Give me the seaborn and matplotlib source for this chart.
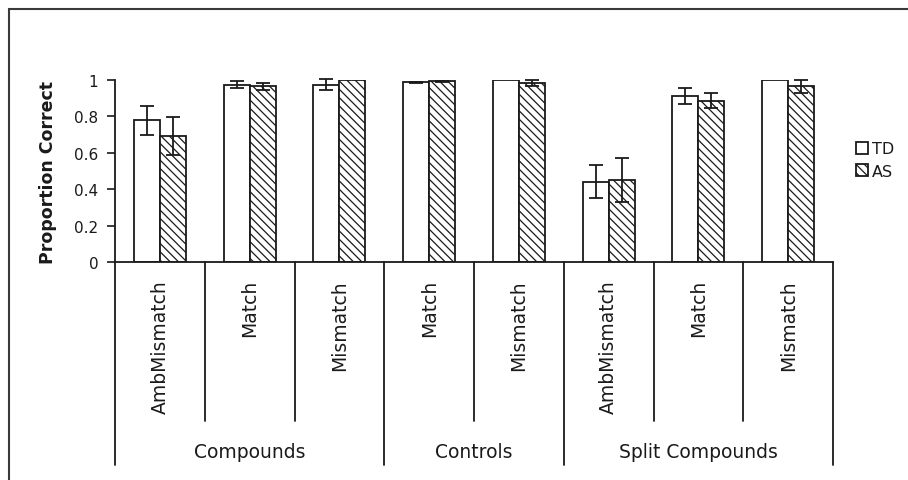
import matplotlib
matplotlib.use("Agg")
import matplotlib.pyplot as plt
import matplotlib.transforms as mtransforms
from matplotlib.patches import Rectangle
import numpy as np
import pandas as pd
import seaborn as sns

# Condition labels, grouped by stimulus type
groups = ["Compounds", "Compounds", "Compounds", "Controls", "Controls",
          "Split Compounds", "Split Compounds", "Split Compounds"]
conditions = ["AmbMismatch", "Match", "Mismatch", "Match", "Mismatch",
              "AmbMismatch", "Match", "Mismatch"]
group_names = ["Compounds", "Controls", "Split Compounds"]

# Mean proportion correct and standard error per participant group
td_mean = [0.78, 0.974, 0.974, 0.987, 1.0, 0.443, 0.912, 1.0]
td_err = [0.08, 0.02, 0.03, 0.004, 0.0, 0.09, 0.045, 0.0]
as_mean = [0.692, 0.965, 1.0, 0.992, 0.985, 0.452, 0.886, 0.965]
as_err = [0.105, 0.02, 0.0, 0.004, 0.017, 0.12, 0.04, 0.035]
participants = ["TD", "AS"]

y_ticks = [0, 0.2, 0.4, 0.6, 0.8, 1]
y_tick_labels = ["0", "0.2", "0.4", "0.6", "0.8", "1"]

keys = [f"{g}|{c}" for g, c in zip(groups, conditions)]
df = pd.DataFrame({
    "cond": keys * 2,
    "participant": ["TD"] * len(keys) + ["AS"] * len(keys),
    "value": td_mean + as_mean,
})

sns.set_style("white")
plt.rcParams["font.family"] = ["DejaVu Sans"]
plt.rcParams["hatch.linewidth"] = 0.9
plt.rcParams["hatch.color"] = "#111111"

ink = "#1a1a1a"
fig = plt.figure(figsize=(9.08, 4.81), dpi=100)
ax = fig.add_axes([115 / 908, 1 - 263.3 / 481, (833 - 115) / 908, (263.3 - 81) / 481])

sns.barplot(data=df, x="cond", y="value", hue="participant", order=keys,
            hue_order=participants, palette=["white", "white"],
            edgecolor=ink, linewidth=1.3, width=0.58, errorbar=None,
            legend=False, ax=ax)

# Hatch the AS bars
for bar in ax.containers[1]:
    bar.set_hatch("\\\\\\\\")

# Error bars at the bar centres
for cont, errs in zip(ax.containers, [td_err, as_err]):
    xs = np.array([b.get_x() + b.get_width() / 2 for b in cont])
    ys = np.array([b.get_height() for b in cont])
    e = np.array(errs)
    m = e > 0
    ax.errorbar(xs[m], ys[m], yerr=e[m], fmt="none", ecolor=ink,
                elinewidth=1.3, capsize=5, capthick=1.3, clip_on=False, zorder=5)

ax.set_ylim(0, 1)
ax.set_xlim(-0.5, len(keys) - 0.5)
ax.set_yticks(y_ticks)
ax.set_yticklabels(y_tick_labels, fontsize=11, color=ink)
ax.tick_params(axis="y", direction="out", length=6, width=1.2, color=ink, pad=6, left=True)
ax.tick_params(axis="x", length=0)
ax.set_xticks([])
ax.set_xlabel("")
ax.set_ylabel("Proportion Correct", fontsize=12.5, fontweight="bold", color=ink, labelpad=12)
for side in ["top", "right"]:
    ax.spines[side].set_visible(False)
for side in ["left", "bottom"]:
    ax.spines[side].set_color(ink)
    ax.spines[side].set_linewidth(1.3)

# Hierarchical category axis below the plot
trans = mtransforms.blended_transform_factory(ax.transData, ax.transAxes)
group_edges = [-0.5]
for i in range(1, len(groups)):
    if groups[i] != groups[i - 1]:
        group_edges.append(i - 0.5)
group_edges.append(len(groups) - 0.5)

for i in range(len(keys) + 1):
    xb = i - 0.5
    y_end = -1.112 if xb in group_edges else -0.871
    ax.plot([xb, xb], [0, y_end], color=ink, lw=1.3, transform=trans, clip_on=False)

for i, c in enumerate(conditions):
    ax.text(i, -0.092, c, rotation=90, ha="center", va="top", fontsize=13.5,
            color=ink, transform=trans)

for gi, g in enumerate(group_names):
    x0, x1 = group_edges[gi], group_edges[gi + 1]
    ax.text((x0 + x1) / 2, -1.04, g, ha="center", va="center", fontsize=13.5,
            color=ink, transform=trans)

# Legend built from the drawn bars
handles = [ax.containers[0][0], ax.containers[1][0]]
fig.legend(handles, participants, loc="center left",
           bbox_to_anchor=(856 / 908, 1 - 161 / 481), frameon=False,
           fontsize=11.5, handlelength=0.75, handleheight=0.75,
           handletextpad=0.25, labelspacing=0.45, borderpad=0, borderaxespad=0,
           labelcolor=ink)

# Outer chart border
fig.patches.append(Rectangle((9 / 908, -0.05), 1.1, 1 - 10 / 481 + 0.05,
                             transform=fig.transFigure, fill=False,
                             edgecolor="#3a3a3a", lw=1.5))

fig.savefig("out.png", dpi=100)
